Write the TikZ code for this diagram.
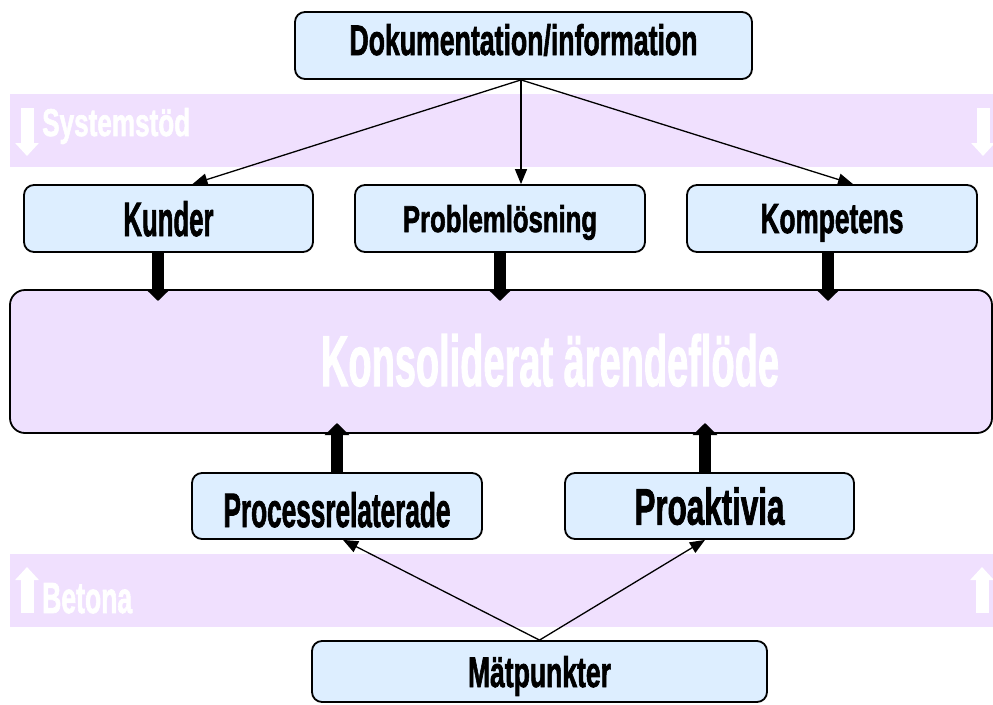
\documentclass[tikz,border=0pt]{standalone}
\usepackage{fontspec}
\setmainfont{Liberation Sans}[BoldFeatures={FakeBold=2}]
\usepackage{graphicx}
\usetikzlibrary{arrows.meta}

\definecolor{boxfill}{RGB}{221,238,255}
\definecolor{bandfill}{RGB}{240,224,254}
\definecolor{bigfill}{RGB}{238,224,254}

% bold label squeezed to a given width and cap height
\newcommand\fitlabel[3]{\resizebox{#1pt}{#2pt}{\bfseries #3}}

\begin{document}
\begin{tikzpicture}[x=1pt,y=-1pt,
  card/.style={draw=black, line width=1.8pt, fill=boxfill, rounded corners=10pt,
               inner sep=0pt, text depth=0pt},
  feed/.style={line width=1.3pt, -{Triangle[length=15pt,width=12pt]}},
  heavy/.style={line width=12pt, -{Triangle[length=12pt,width=24pt]}},
  hollow/.style={white, line width=13pt, -{Triangle[length=13pt,width=23pt]}},
  bandlabel/.style={white, anchor=base west, inner sep=0pt}
]
\useasboundingbox (0,0) rectangle (993,704);

% background bands
\fill[bandfill] (10,94) rectangle (993,167);
\fill[bandfill] (10,554) rectangle (993,627);

% band markers
\coordinate (s1a) at (27,108);  \coordinate (s1b) at (27,156);
\coordinate (s2a) at (983,108); \coordinate (s2b) at (983,156);
\coordinate (b1a) at (27,613);  \coordinate (b1b) at (27,567);
\coordinate (b2a) at (982,613); \coordinate (b2b) at (982,567);
\draw[hollow] (s1a) -- (s1b);
\draw[hollow] (s2a) -- (s2b);
\draw[hollow] (b1a) -- (b1b);
\draw[hollow] (b2a) -- (b2b);
\node[bandlabel] (sys) at (42,136) {\fitlabel{148}{28}{Systemstöd}};
\node[bandlabel] (bet) at (42,613) {\fitlabel{90}{30}{Betona}};

% boxes
\node[card, minimum width=457pt, minimum height=67pt, text height=30pt, text depth=11pt]
  (dok) at (523.5,45.5) {\fitlabel{348}{31}{Dokumentation/information}};
\node[card, minimum width=289pt, minimum height=67pt, text height=35pt]
  (kund) at (168.5,218.5) {\fitlabel{90}{35}{Kunder}};
\node[card, minimum width=290pt, minimum height=67pt, text height=27pt]
  (prob) at (500,218.5) {\fitlabel{194}{27}{Problemlösning}};
\node[card, minimum width=290pt, minimum height=67pt, text height=29pt]
  (komp) at (832,218.5) {\fitlabel{143}{29}{Kompetens}};

\node[card, fill=bigfill, rounded corners=15pt, minimum width=982pt, minimum height=143pt]
  (big) at (501,361.5) {};
\node[white, inner sep=0pt, text depth=0pt, text height=52pt]
  (bigtext) at (550,360) {\fitlabel{458}{52}{Konsoliderat ärendeflöde}};

\node[card, minimum width=290pt, minimum height=66pt, text height=42pt]
  (proc) at (337,506) {\fitlabel{227}{35}{Processrelaterade}};
\node[card, minimum width=289pt, minimum height=66pt, text height=37pt]
  (proa) at (709.5,506) {\fitlabel{150}{37}{Proaktivia}};
\node[card, minimum width=455pt, minimum height=61pt, text height=31pt]
  (matp) at (539.5,671.5) {\fitlabel{143}{31}{Mätpunkter}};

% thin feeds from the documentation box
\draw[feed] ([xshift=-2.5pt]dok.south) -- ([xshift=24pt]kund.north);
\draw[feed] ([xshift=-2.5pt]dok.south) -- ([xshift=21pt]prob.north);
\draw[feed] ([xshift=-2.5pt]dok.south) -- ([xshift=21pt]komp.north);

% heavy arrows into the consolidated flow
\coordinate (kx) at (158,0);
\coordinate (px) at (500,0);
\coordinate (cx) at (828,0);
\coordinate (tk) at (158,301);
\coordinate (tp) at (500,301);
\coordinate (tc) at (828,301);
\draw[heavy] (kund.south -| kx) -- (tk);
\draw[heavy] (prob.south -| px) -- (tp);
\draw[heavy] (komp.south -| cx) -- (tc);

\coordinate (ux) at (337,0);
\coordinate (vx) at (705,0);
\coordinate (tu) at (337,423);
\coordinate (tv) at (705,423);
\draw[heavy] (proc.north -| ux) -- (tu);
\draw[heavy] (proa.north -| vx) -- (tv);

% measurement feeds
\draw[feed] (matp.north) -- ([xshift=6pt]proc.south);
\draw[feed] (matp.north) -- ([xshift=-4.5pt]proa.south);
\end{tikzpicture}
\end{document}
